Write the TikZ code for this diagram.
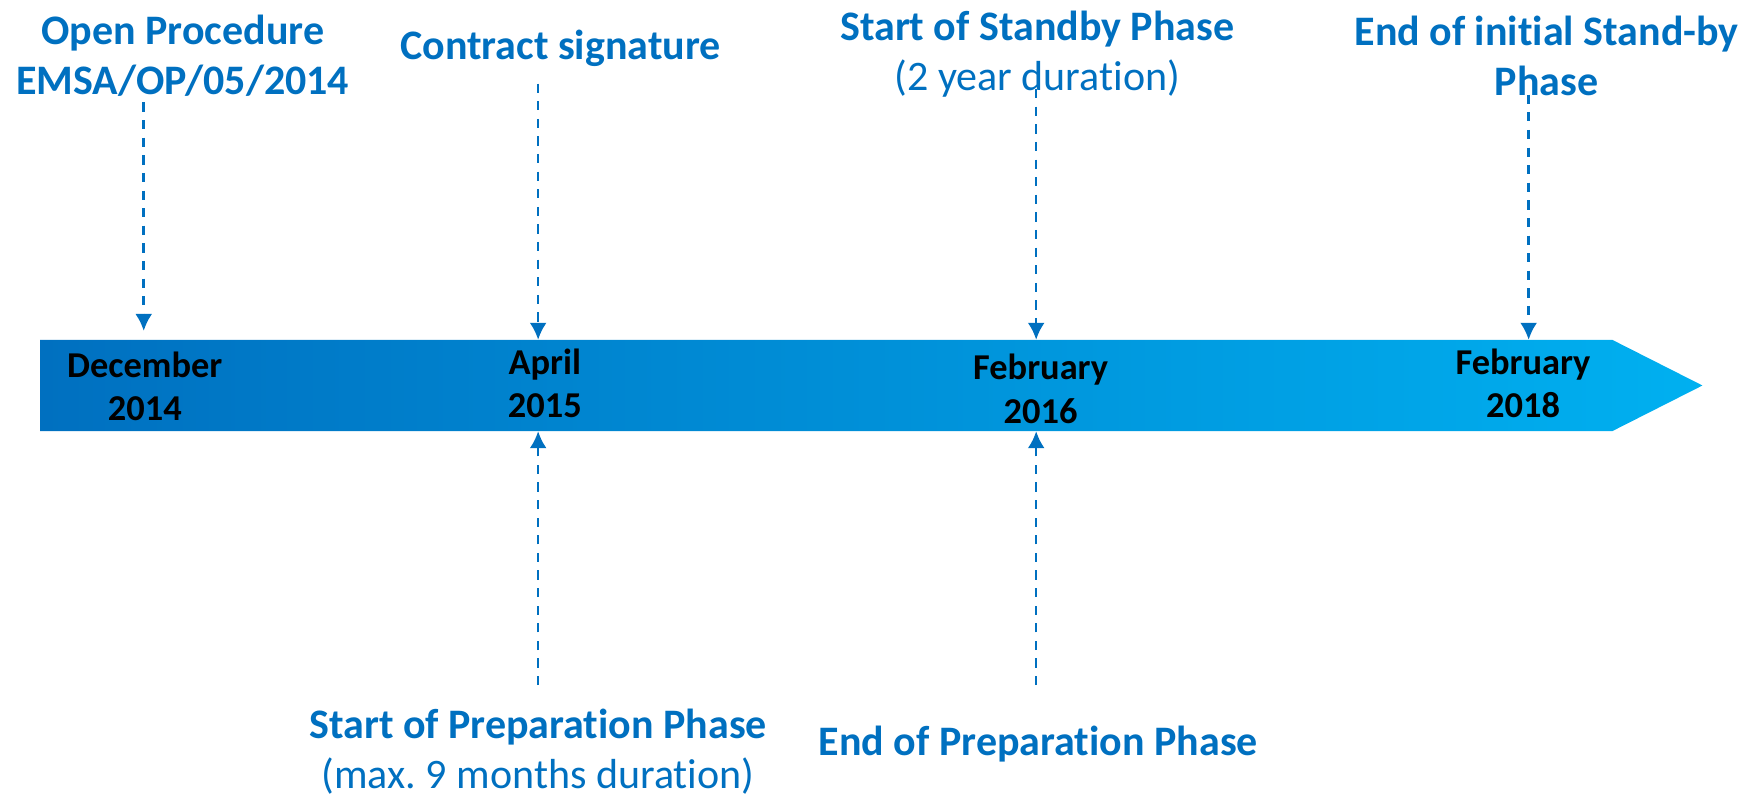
\documentclass[tikz,border=0pt]{standalone}
\usepackage{fontspec}
\setmainfont{Carlito}[Ligatures=NoCommon]
\frenchspacing
\usetikzlibrary{arrows.meta}
\definecolor{emsablue}{RGB}{0,112,192}
\definecolor{barleft}{RGB}{0,112,192}
\definecolor{barright}{RGB}{0,176,240}

\begin{document}
\begin{tikzpicture}[x=0.557pt,y=-0.557pt,
  event/.style={text=emsablue,font=\fontsize{21}{25}\selectfont\bfseries,align=center,inner sep=0pt},
  date/.style={font=\fontsize{18.2}{21.7}\selectfont\bfseries,align=center,inner sep=0pt},
  link/.style={emsablue,line width=1.3pt,dash pattern=on 4.6pt off 4.2pt,-{Latex[length=8.5pt,width=8.5pt]}}]
\useasboundingbox (0,0) rectangle (1568,714.5);
% time bar
\shade [left color=barleft,right color=barright] (36,305) -- (1447,305) -- (1528,346) -- (1447,387) -- (36,387) -- cycle;
\node[date] (dec14) at (130,347) {December\\2014};
\node[date] (apr15) at (489,344) {April\\2015};
\node[date] (feb16) at (934,349) {February\\2016};
\node[date] (feb18) at (1367,344) {February\\2018};
% events above
\node[event] (open) at (164,50) {Open Procedure\\EMSA/OP/05/2014};
\node[event] (sign) at (503,43) {Contract signature};
\node[event] (standby) at (931,49) {Start of Standby Phase\\{\mdseries(2 year duration)}};
\node[event] (endstandby) at (1388,50) {End of initial Stand-by\\Phase};
% events below
\node[event] (prep) at (483,675) {Start of Preparation Phase\\{\mdseries(max. 9 months duration)}};
\node[event] (endprep) at (932,668) {End of Preparation Phase};
% arrows
\coordinate (openfrom) at (129,92);   \coordinate (opento) at (129,297);
\coordinate (signfrom) at (483,75);   \coordinate (signto) at (483,305);
\coordinate (standbyfrom) at (930,80); \coordinate (standbyto) at (930,305);
\coordinate (endsbfrom) at (1372,85); \coordinate (endsbto) at (1372,305);
\coordinate (prepfrom) at (483,615);  \coordinate (prepto) at (483,387);
\coordinate (endprepfrom) at (930,615); \coordinate (endprepto) at (930,387);
\draw [link] (openfrom) -- (opento);
\draw [link] (signfrom) -- (signto);
\draw [link] (standbyfrom) -- (standbyto);
\draw [link] (endsbfrom) -- (endsbto);
\draw [link] (prepfrom) -- (prepto);
\draw [link] (endprepfrom) -- (endprepto);
\end{tikzpicture}
\end{document}
